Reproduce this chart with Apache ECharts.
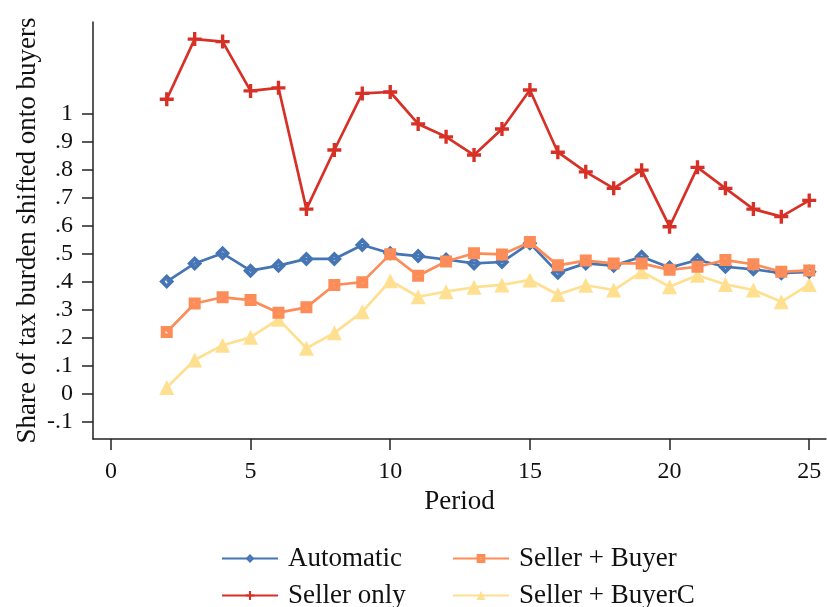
<!DOCTYPE html>
<html>
<head>
<meta charset="utf-8">
<script src="https://cdn.jsdelivr.net/npm/echarts@6/dist/echarts.min.js"></script>
<style>html,body{margin:0;padding:0;background:#fff;}#c{width:827px;height:607px;}</style>
</head>
<body>
<div id="c"></div>
<script>
var periods = [2,3,4,5,6,7,8,9,10,11,12,13,14,15,16,17,18,19,20,21,22,23,24,25];
var automatic = [0.399,0.464,0.500,0.438,0.456,0.480,0.480,0.530,0.500,0.490,0.478,0.464,0.469,0.536,0.431,0.464,0.456,0.488,0.449,0.476,0.452,0.443,0.429,0.434];
var sellerOnly = [1.050,1.265,1.256,1.080,1.091,0.658,0.869,1.071,1.076,0.962,0.916,0.851,0.944,1.083,0.861,0.791,0.732,0.797,0.595,0.807,0.732,0.658,0.631,0.689];
var sellerBuyer = [0.219,0.321,0.343,0.333,0.288,0.307,0.387,0.397,0.497,0.420,0.471,0.500,0.496,0.540,0.457,0.474,0.464,0.464,0.441,0.452,0.476,0.461,0.434,0.439];
var sellerBuyerC = [0.021,0.119,0.172,0.200,0.265,0.161,0.216,0.291,0.402,0.345,0.363,0.379,0.387,0.405,0.353,0.386,0.369,0.434,0.381,0.422,0.389,0.369,0.327,0.389];
var yTicks = [-0.1,0,0.1,0.2,0.3,0.4,0.5,0.6,0.7,0.8,0.9,1];
var xTicks = [0,5,10,15,20,25];

function pairs(ys){ return periods.map(function(p,i){ return [p, ys[i]]; }); }
function fmtY(v){
  var r = Math.round(v*10)/10;
  if (r === 0) return '0';
  if (r === 1) return '1';
  var s = r.toFixed(1);
  return s.replace('0.', '.');
}
var FONT = '"Liberation Serif", "Times New Roman", serif';
var diamond = 'path://M5,0 L10,5 L5,10 L0,5 Z M5,3.6 L3.6,5 L5,6.4 L6.4,5 Z';
var square = 'path://M0,0 H10 V10 H0 Z M4,4 V6 H6 V4 Z';
var plus = 'path://M3.8,0 H6.2 V3.8 H10 V6.2 H6.2 V10 H3.8 V6.2 H0 V3.8 H3.8 Z';

function mk(name, data, color, symbol, size, z){
  return {
    name: name, type: 'line', data: pairs(data), symbol: symbol, symbolSize: size,
    showAllSymbol: true, z: z, animation: false,
    lineStyle: {color: color, width: 2.7},
    itemStyle: {color: color, borderWidth: 0},
    emphasis: {disabled: true}
  };
}
function lg(name, left, top){
  return {left: left, top: top, orient: 'horizontal', itemWidth: 56, itemHeight: 11,
    data: [name], selectedMode: false,
    textStyle: {fontFamily: FONT, fontSize: 27, color: '#111', padding: [0,0,0,5]}};
}

var chart = echarts.init(document.getElementById('c'), null, {renderer: 'canvas'});
chart.setOption({
  backgroundColor: '#fff',
  animation: false,
  grid: {left: 93, right: 1, top: 22, bottom: 168, containLabel: false},
  xAxis: {
    type: 'value', min: -0.64, max: 25.6,
    name: 'Period', nameLocation: 'middle', nameGap: 45,
    nameTextStyle: {fontFamily: FONT, fontSize: 27, color: '#111'},
    axisLine: {show: true, onZero: false, lineStyle: {color: '#222', width: 1.5}},
    axisTick: {show: true, length: 11, lineStyle: {color: '#222', width: 1.5}, customValues: xTicks},
    axisLabel: {fontFamily: FONT, fontSize: 24, color: '#111', margin: 21, customValues: xTicks},
    splitLine: {show: false}
  },
  yAxis: {
    type: 'value', min: -0.163, max: 1.326,
    name: 'Share of tax burden shifted onto buyers', nameLocation: 'middle', nameGap: 52,
    nameMoveOverlap: false,
    nameTextStyle: {fontFamily: FONT, fontSize: 27, color: '#111'},
    axisLine: {show: true, onZero: false, lineStyle: {color: '#222', width: 1.5}},
    axisTick: {show: true, length: 11, lineStyle: {color: '#222', width: 1.5}, customValues: yTicks},
    axisLabel: {fontFamily: FONT, fontSize: 24, color: '#111', margin: 20, customValues: yTicks, formatter: fmtY},
    splitLine: {show: false}
  },
  legend: [
    lg('Automatic', 216, 540),
    lg('Seller + Buyer', 447, 540),
    lg('Seller only', 216, 577),
    lg('Seller + BuyerC', 447, 577)
  ],
  series: [
    mk('Automatic', automatic, '#4575b4', diamond, 15, 2),
    mk('Seller only', sellerOnly, '#d73027', plus, 14, 3),
    mk('Seller + Buyer', sellerBuyer, '#fc8d59', square, 12, 4),
    mk('Seller + BuyerC', sellerBuyerC, '#fee090', 'triangle', 15, 1)
  ]
});
</script>
</body>
</html>
